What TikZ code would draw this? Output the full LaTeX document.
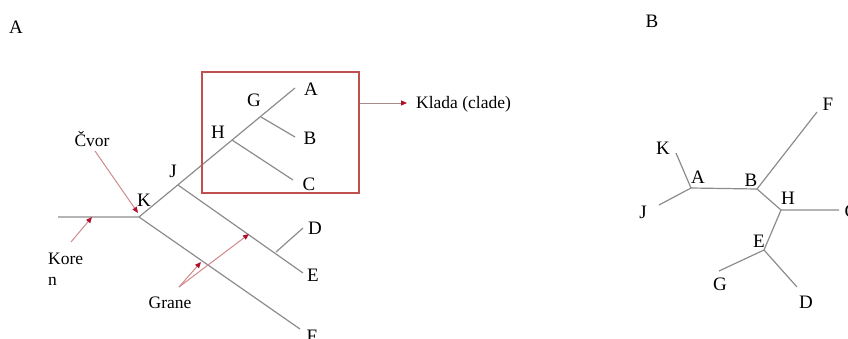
\documentclass[tikz,border=0pt]{standalone}
\usepackage{fontspec}
\setmainfont{Liberation Serif}
\usetikzlibrary{arrows.meta}
\definecolor{branch}{HTML}{8C8C8C}
\definecolor{boxred}{HTML}{C0504D}
\definecolor{shaft}{HTML}{D08A8C}
\definecolor{tipred}{HTML}{B0102C}
\tikzset{
  br/.style={draw=branch, line width=1.2pt},
  lbl/.style={inner sep=0pt, font=\fontsize{19}{19}\selectfont},
  note/.style={inner sep=0pt, font=\fontsize{17.5}{17.5}\selectfont},
  pointer/.style={draw=shaft, line width=1pt, -{Triangle[length=6pt, width=5pt, fill=tipred, color=tipred]}},
}
\begin{document}
\begin{tikzpicture}[x=1pt, y=-1pt]
\useasboundingbox (0,0) rectangle (848,338);
\clip (0,0) rectangle (848,338);

% ---------- panel A: rooted tree ----------
\node[lbl] (titleA) at (16,27) {A};

\coordinate (root) at (58,217);
\coordinate (k) at (139,217);
\coordinate (j) at (178,185);
\coordinate (h) at (232,140);
\coordinate (g) at (261,117);
\coordinate (tA) at (295,88);
\coordinate (tB) at (295,137);
\coordinate (tC) at (293,180);
\coordinate (tE) at (303,273);
\coordinate (dj) at (276,252);
\coordinate (tD) at (303,228);
\coordinate (tF) at (300,329);

\draw[br] (root) -- (k) -- (tA);
\draw[br] (g) -- (tB);
\draw[br] (h) -- (tC);
\draw[br] (j) -- (tE);
\draw[br] (dj) -- (tD);
\draw[br] (k) -- (tF);

\node[lbl] (lA) at (311,89) {A};
\node[lbl] (lG) at (254,100) {G};
\node[lbl] (lB) at (310,138) {B};
\node[lbl] (lH) at (218,132) {H};
\node[lbl] (lC) at (309,184) {C};
\node[lbl] (lJ) at (173,171) {J};
\node[lbl] (lK) at (144,200) {K};
\node[lbl] (lD) at (315,228) {D};
\node[lbl] (lE) at (313,275) {E};
\node[lbl] (lF) at (312,336) {F};

% clade box and its label
\node[draw=boxred, line width=1.3pt, minimum width=157pt, minimum height=121pt, inner sep=0pt] (clade) at (280.5,132.5) {};
\node[note, anchor=west] (klada) at (416,104) {Klada (clade)};
\coordinate (kladaTip) at (407,103);
\draw[pointer, draw=branch!60!shaft] (clade.east |- kladaTip) -- (kladaTip);

% annotations
\node[note] (cvor) at (92,139) {Čvor};
\coordinate (cvorTip) at (138,213);
\draw[pointer] (95,151) -- (cvorTip);

\node[note, anchor=west] (kore) at (48,259) {Kore};
\node[note, anchor=west] (kn) at (48,281) {n};
\coordinate (korenTip) at (92,217);
\draw[pointer] (71,242) -- (korenTip);

\node[note] (grane) at (170,303) {Grane};
\coordinate (graneFrom) at (179,287);
\coordinate (graneTip1) at (201,262);
\coordinate (graneTip2) at (249,234);
\draw[pointer] (graneFrom) -- (graneTip1);
\draw[pointer] (graneFrom) -- (graneTip2);

% ---------- panel B: unrooted tree ----------
\node[lbl] (titleB) at (652,21) {B};

\coordinate (ua) at (691,188);
\coordinate (ub) at (757,189);
\coordinate (uh) at (781,210);
\coordinate (ue) at (764,250);
\coordinate (uK) at (676,153);
\coordinate (uJ) at (659,205);
\coordinate (uF) at (817,112);
\coordinate (uC) at (839,210);
\coordinate (uG) at (719,271);
\coordinate (uD) at (797,287);

\draw[br] (uK) -- (ua) -- (uJ);
\draw[br] (ua) -- (ub) -- (uF);
\draw[br] (ub) -- (uh) -- (uC);
\draw[br] (uh) -- (ue) -- (uG);
\draw[br] (ue) -- (uD);

\node[lbl] (bK) at (663,148) {K};
\node[lbl] (bA) at (698,177) {A};
\node[lbl] (bB) at (751,180) {B};
\node[lbl] (bF) at (828,104) {F};
\node[lbl] (bH) at (788,198) {H};
\node[lbl] (bC) at (851,211) {C};
\node[lbl] (bJ) at (643,212) {J};
\node[lbl] (bE) at (759,241) {E};
\node[lbl] (bG) at (720,284) {G};
\node[lbl] (bD) at (806,302) {D};
\end{tikzpicture}
\end{document}
